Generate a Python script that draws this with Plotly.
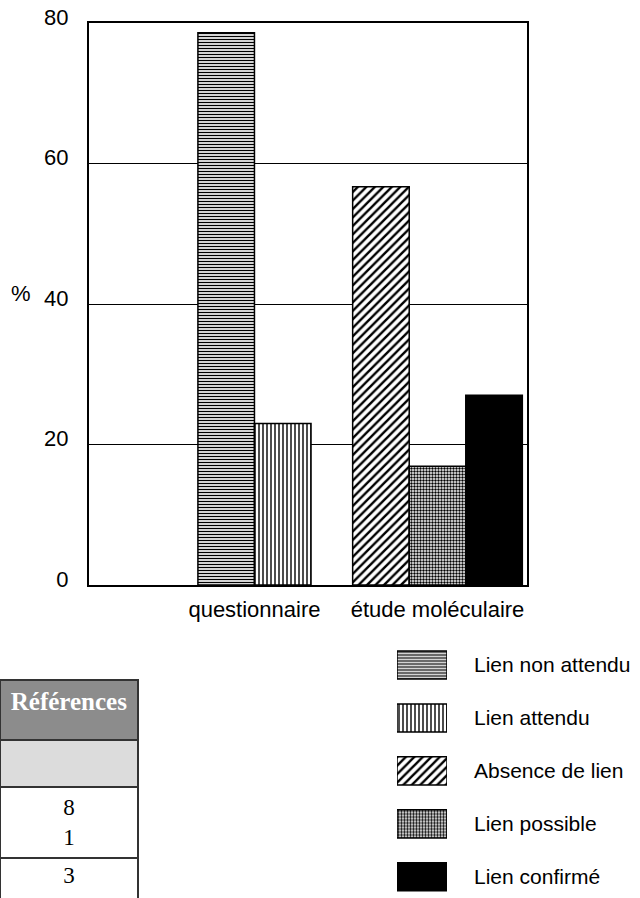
import plotly.graph_objects as go

# ---- data ----
categories = ["questionnaire", "étude moléculaire"]
series_names = ["Lien non attendu", "Lien attendu", "Absence de lien", "Lien possible", "Lien confirmé"]
series_category = ["questionnaire", "questionnaire", "étude moléculaire", "étude moléculaire", "étude moléculaire"]
series_values = [78.6, 23.0, 56.7, 16.9, 27.0]
y_ticks = [0, 20, 40, 60, 80]

table_header = ["Références"]
table_rows = ["", "8<br>1", "3"]

# ---- styles ----
W, H = 640, 898
FONT = "Liberation Sans, Arial, sans-serif"
patterns = {
    "Lien non attendu": dict(shape="-", size=3, solidity=0.45),
    "Lien attendu": dict(shape="|", size=4, solidity=0.35),
    "Absence de lien": dict(shape="/", size=6, solidity=0.4),
    "Lien possible": dict(shape=".", size=3, solidity=0.5),
    "Lien confirmé": dict(shape="", size=4, solidity=1),
}
bar_w = 0.309

def marker_for(name):
    p = patterns[name]
    if p["shape"] == "":
        return dict(color="black", line=dict(color="black", width=1.5))
    return dict(
        color="white",
        line=dict(color="black", width=1.5),
        pattern=dict(shape=p["shape"], size=p["size"], solidity=p["solidity"],
                     fgcolor="black", bgcolor="white", fillmode="replace"),
    )

fig = go.Figure()

# main bars
for name, cat, val in zip(series_names, series_category, series_values):
    members = [n for n, c in zip(series_names, series_category) if c == cat]
    k = len(members)
    i = members.index(name)
    fig.add_trace(go.Bar(
        x=[cat], y=[val], name=name, width=bar_w, offset=(i - k / 2) * bar_w,
        marker=marker_for(name), showlegend=False, xaxis="x", yaxis="y",
    ))

# legend swatches
for name in series_names:
    fig.add_trace(go.Bar(
        x=[1], y=[name], orientation="h", width=0.53, name=name,
        marker=marker_for(name), showlegend=False, xaxis="x2", yaxis="y2",
        hoverinfo="skip",
    ))

# table fragment
fig.add_trace(go.Table(
    domain=dict(x=[0, 138 / W], y=[0, 1 - 680 / H]),
    header=dict(values=["<b>" + h + "</b>" for h in table_header],
                fill_color="#8c8c8c",
                font=dict(family="Liberation Serif, Times New Roman, serif", size=25, color="white"),
                height=60, align="center",
                line=dict(color="#333333", width=2)),
    cells=dict(values=[table_rows],
               fill_color=[["#dcdcdc", "white", "white"]],
               font=dict(family="Liberation Serif, Times New Roman, serif", size=23, color="black"),
               height=47, align="center",
               line=dict(color="#333333", width=2)),
))

fig.update_layout(
    width=W, height=H,
    margin=dict(l=0, r=0, t=0, b=0),
    paper_bgcolor="white", plot_bgcolor="white",
    barmode="overlay",
    font=dict(family=FONT, size=22, color="black"),
    xaxis=dict(
        domain=[89 / W, 527 / W], type="category", categoryorder="array",
        categoryarray=categories, range=[-0.904, 1.489],
        showline=True, mirror=True, linecolor="black", linewidth=2,
        ticks="", showgrid=False, zeroline=False, automargin=False,
        ticklabelstandoff=4, tickfont=dict(size=22),
    ),
    yaxis=dict(
        domain=[1 - 585 / H, 1 - 23 / H], range=[0, 80],
        tickvals=y_ticks, ticktext=[str(t) for t in y_ticks],
        showline=True, mirror=True, linecolor="black", linewidth=2,
        showgrid=True, gridcolor="black", gridwidth=1, zeroline=False,
        ticks="", automargin=False, ticklabelstandoff=14, ticklabelshift=-6,
        tickfont=dict(size=22),
    ),
    xaxis2=dict(domain=[397 / W, 447 / W], range=[0, 1], visible=False,
                anchor="y2", fixedrange=True),
    yaxis2=dict(domain=[0, 1 - 638.5 / H], anchor="x2", side="right",
                type="category", categoryorder="array", categoryarray=series_names,
                range=[4.4, -0.5], showgrid=False, showline=False, zeroline=False,
                ticks="", ticklabelstandoff=26, automargin=False,
                tickfont=dict(size=21)),
    annotations=[dict(text="%", x=21 / W, y=1 - 294 / H, xref="paper", yref="paper",
                      showarrow=False, font=dict(size=22), xanchor="center", yanchor="middle")],
)

fig.write_html("out.html", config={"displayModeBar": False},
               post_script="document.body.style.margin='0';document.body.style.overflow='hidden';")
